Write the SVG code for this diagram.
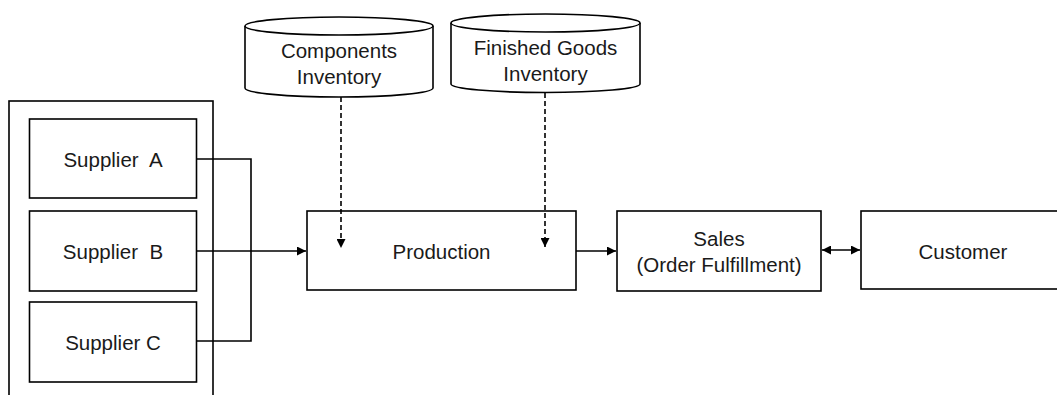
<svg xmlns="http://www.w3.org/2000/svg" width="1057" height="395" viewBox="0 0 1057 395">
  <style>
    .box { fill: #ffffff; stroke: #000000; stroke-width: 1.6; }
    .lbl { font-family: "Liberation Sans", Arial, sans-serif; font-size: 20.5px; fill: #1a1a1a; text-anchor: middle; dominant-baseline: central; white-space: pre; }
    .wire { fill: none; stroke: #000000; stroke-width: 1.6; }
    .dash { fill: none; stroke: #000000; stroke-width: 1.6; stroke-dasharray: 5 3; }
  </style>
  <defs>
    <marker id="arrow" viewBox="0 0 10 10" refX="10" refY="5" markerWidth="9" markerHeight="9" markerUnits="userSpaceOnUse" orient="auto-start-reverse">
      <path d="M0,0 L10,5 L0,10 Z" fill="#000000"/>
    </marker>
  </defs>
  <rect width="1057" height="395" fill="#ffffff"/>

  <!-- supplier container -->
  <g id="suppliers">
    <rect class="box" x="9" y="101" width="204" height="310"/>
  </g>

  <g id="supplier-a">
    <rect class="box" x="29.5" y="119" width="167" height="79"/>
    <text class="lbl" x="113" y="159" xml:space="preserve">Supplier  A</text>
  </g>
  <g id="supplier-b">
    <rect class="box" x="29.5" y="211" width="167" height="80"/>
    <text class="lbl" x="113" y="251" xml:space="preserve">Supplier  B</text>
  </g>
  <g id="supplier-c">
    <rect class="box" x="29.5" y="302" width="167" height="80"/>
    <text class="lbl" x="113" y="342">Supplier C</text>
  </g>

  <g id="components-inventory">
    <path class="box" d="M245,26 L245,88 A94,9 0 0 0 433,88 L433,26"/>
    <ellipse class="box" cx="339" cy="26" rx="94" ry="9"/>
    <text class="lbl" x="339" y="50">Components</text>
    <text class="lbl" x="339" y="76">Inventory</text>
  </g>

  <g id="finished-goods-inventory">
    <path class="box" d="M451,23 L451,84 A94.5,8.5 0 0 0 640,84 L640,23"/>
    <ellipse class="box" cx="545.5" cy="23" rx="94.5" ry="9"/>
    <text class="lbl" x="545.5" y="47">Finished Goods</text>
    <text class="lbl" x="545.5" y="73">Inventory</text>
  </g>

  <g id="production">
    <rect class="box" x="307" y="211" width="269" height="79"/>
    <text class="lbl" x="441.5" y="251">Production</text>
  </g>

  <g id="sales">
    <rect class="box" x="617" y="211" width="204" height="80"/>
    <text class="lbl" x="719" y="238">Sales</text>
    <text class="lbl" x="719" y="264">(Order Fulfillment)</text>
  </g>

  <g id="customer">
    <rect class="box" x="861" y="211" width="210" height="78"/>
    <text class="lbl" x="963" y="251">Customer</text>
  </g>

  <g id="connectors">
    <path class="wire" d="M197,159 H251 V341 H197"/>
    <path class="wire" d="M197,251 H306" marker-end="url(#arrow)"/>
    <path class="dash" d="M341,97 V248" marker-end="url(#arrow)"/>
    <path class="dash" d="M545,93 V247" marker-end="url(#arrow)"/>
    <path class="wire" d="M576,251 H616" marker-end="url(#arrow)"/>
    <path class="wire" d="M822,250 H860" marker-start="url(#arrow)" marker-end="url(#arrow)"/>
  </g>
</svg>
